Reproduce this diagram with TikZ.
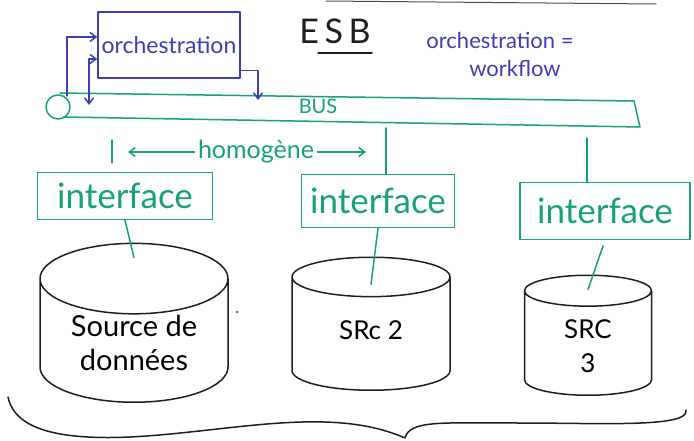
\documentclass[tikz,border=0pt]{standalone}
\usepackage{fontspec}
\setmainfont{Lato}
\usetikzlibrary{calc, positioning, shapes.geometric, arrows.meta}
\definecolor{penblue}{RGB}{62,62,178}
\definecolor{pengreen}{RGB}{22,160,124}
\definecolor{penblack}{RGB}{30,30,30}
\tikzstyle{pen}=[line width=1.5pt, line cap=round, line join=round]
\tikzstyle{link}=[pen, draw=pengreen]
\tikzstyle{flow}=[pen, draw=penblue, -{Straight Barb[length=6pt,width=9pt]}]
\tikzstyle{interface}=[pen, draw=pengreen, text=pengreen, font=\fontsize{35}{36}\selectfont]
\tikzstyle{database}=[pen, draw=penblack, cylinder, shape border rotate=90, anchor=bottom, align=center, font=\fontsize{26}{34}\selectfont]

\begin{document}
\begin{tikzpicture}[x=1pt, y=-1pt]
        \useasboundingbox (0,0) rectangle (694,441);

		% title and note
		\draw[pen, line width=1pt, gray!60!black] (326,1) -- (656,4);
		\node[font=\fontsize{34}{36}\selectfont, text=penblack] (esb) at (335,31) {E\,S\,B};
		\draw[pen, penblack] ([xshift=-17pt,yshift=-6pt]esb.south) -- ([xshift=37pt,yshift=-6pt]esb.south);
		\node[text=penblue, align=center, font=\fontsize{22}{28}\selectfont] (note) at (500,54) {orchestration =\\\hspace*{30pt}workflow};

		% orchestration
		\node[pen, draw=penblue, text=penblue, minimum width=142, minimum height=66, font=\fontsize{23}{24}\selectfont] (orch) at (169,45) {orchestration};

		% bus
		\draw[link] (58,107) circle (12);
		\draw[link] (60,93) -- (634,101) -- (640,127) -- (64,117);
		\node[text=pengreen, font=\fontsize{20}{22}\selectfont] (bus) at (318,106) {BUS};
		\coordinate (c1) at (67,96);
		\coordinate (c2) at (89,105);
		\coordinate (c3) at (258,100);
		\coordinate (b1) at (112,118);
		\coordinate (b2) at (386,124);
		\coordinate (b3) at (587,126);

		\draw[flow] (c1) |- ([yshift=8pt]orch.west);
		\draw[flow, {Straight Barb[length=6pt,width=9pt]}-{Straight Barb[length=6pt,width=9pt]}] (c2) |- ([yshift=-14pt]orch.west);
		\draw[flow] ([yshift=8pt]orch.south east) -| (c3);

		% interfaces
		\node[interface, minimum width=175, minimum height=47] (if1) at (125,196) {interface};
		\node[interface, minimum width=153, minimum height=53] (if2) at (378,201) {interface};
		\node[interface, minimum width=170, minimum height=57] (if3) at (605,211) {interface};

		\draw[link, shorten <=22pt, shorten >=9pt] (b1) -- (b1 |- if1.north);
		\draw[link, shorten <=4pt] (b2) -- (b2 |- if2.north);
		\draw[link, shorten <=12pt] (b3) -- (b3 |- if3.north);

		\node[text=pengreen, font=\fontsize{25}{26}\selectfont] (homog) at (256,152) {homogène};
		\draw[flow, draw=pengreen, shorten >=16pt] (homog.west) -- (homog.west -| b1);
		\draw[flow, draw=pengreen, shorten >=20pt] (homog.east) -- (homog.east -| b2);

		% sources
		\node[database, minimum width=188, minimum height=110, aspect=0.55, inner sep=1pt, font=\fontsize{29}{34}\selectfont] (db1) at (134,403) {Source de\\données};
		\node[database, minimum width=158, minimum height=133, aspect=0.56] (db2) at (371,391) {\raisebox{14pt}{SRc 2}};
		\node[database, minimum width=127, minimum height=120, aspect=0.57] (db3) at (588,396) {SRC\\3};

		\draw[link] (if1.south) -- ([yshift=-15pt]db1.top);
		\draw[link] (if2.south) -- ([yshift=-28pt]db2.top);
		\draw[link, shorten <=6pt] (if3.south) -- ([yshift=-15pt]db3.top);

		\fill[penblack] (237,312) circle (1);
		\draw[pen, penblack] (8,397) .. controls (15,430) and (60,440) .. (130,437) .. controls (230,432) and (330,405) .. (405,438)
		      .. controls (410,420) and (440,423) .. (520,423) .. controls (600,423) and (690,428) .. (686,410);
	\end{tikzpicture}
\end{document}
